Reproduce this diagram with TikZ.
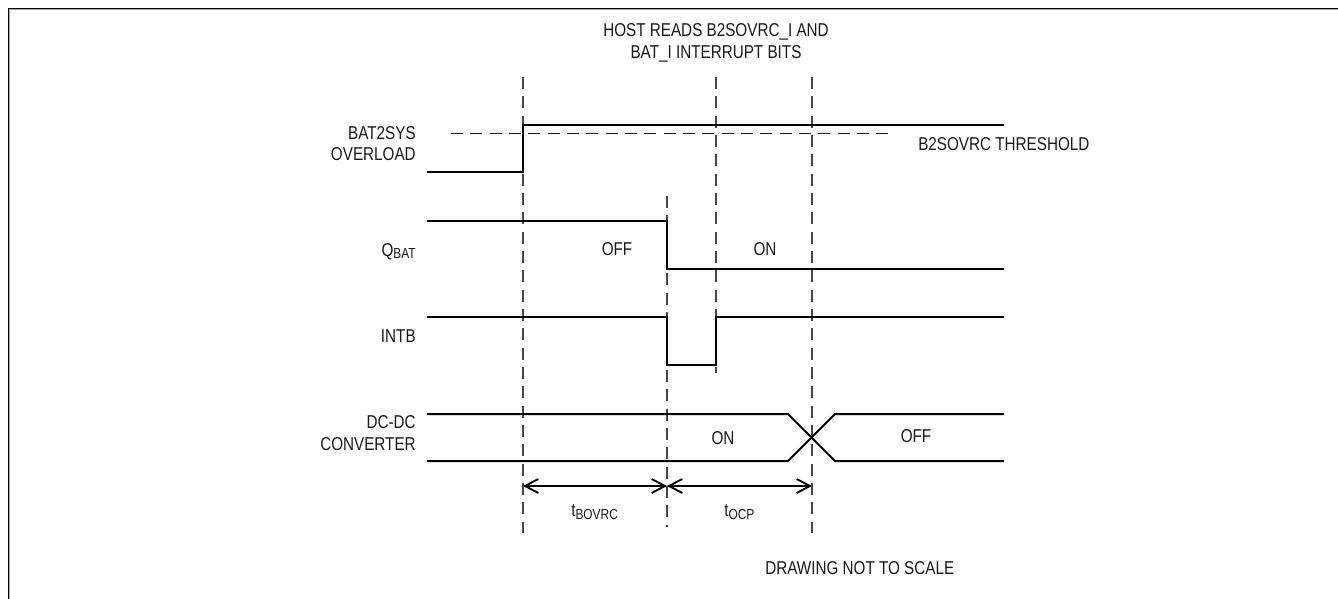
\documentclass[tikz,border=0pt]{standalone}
\usepackage{fontspec}
\setmainfont{Liberation Sans}[FakeStretch=0.82]
\usetikzlibrary{arrows.meta}
\newcommand{\mysub}[1]{\raisebox{-1.9pt}{\fontsize{10.9pt}{12pt}\selectfont #1}}
\begin{document}
\begin{tikzpicture}[x=0.75pt,y=-0.75pt,
  sig/.style={line width=1.5pt, line join=miter},
  vdash/.style={draw=black!72, line width=1.4pt, dash pattern=on 9pt off 5.5pt},
  thr/.style={draw=black!90, line width=1.1pt, dash pattern=on 9pt off 5.5pt},
  lbl/.style={inner sep=0pt, font=\fontsize{13.95pt}{16.4pt}\selectfont, text=black!90},
  dim/.style={line width=1.4pt, {Straight Barb[length=10pt,width=10.5pt]}-{Straight Barb[length=10pt,width=10.5pt]}}
]
\useasboundingbox (0,0) rectangle (1338,599);
% frame (top and left edges only)
\draw[gray!70, line width=0.75pt] (9.8,599) -- (9.8,9.8) -- (1338,9.8);
\draw[black, line width=0.8pt] (8.6,599) -- (8.6,8.6) -- (1338,8.6);

% vertical dashed time markers
\coordinate (v1t) at (523,77);   \coordinate (v1b) at (523,533);
\coordinate (v2t) at (667,196);  \coordinate (v2b) at (667,527);
\coordinate (v3t) at (716,77);   \coordinate (v3b) at (716,373);
\coordinate (v4t) at (812,77);   \coordinate (v4b) at (812,533);
\draw[vdash] (v1t) -- (v1b);
\draw[vdash] (v2t) -- (v2b);
\draw[vdash] (v3t) -- (v3b);
\draw[vdash] (v4t) -- (v4b);

% threshold
\coordinate (th1) at (451,133.5); \coordinate (th2) at (892,133.5);
\draw[thr] (th1) -- (th2);

% BAT2SYS OVERLOAD
\draw[sig] (427,172) -- (523,172) -- (523,125) -- (1004,125);
% QBAT
\draw[sig] (427,221) -- (667,221) -- (667,269) -- (1004,269);
% INTB
\draw[sig] (427,317) -- (667,317) -- (667,365) -- (716,365) -- (716,317) -- (1004,317);
% DC-DC converter
\draw[sig] (427,414) -- (788,414) -- (835,461) -- (1004,461);
\draw[sig] (427,461) -- (788,461) -- (835,414) -- (1004,414);

% timing dimensions
\coordinate (a1) at (523,486); \coordinate (a2) at (667,486); \coordinate (a3) at (812,486);
\draw[dim] (a1) -- (a2);
\draw[dim] (a2) -- (a3);

% labels (base anchor of a multi-line node = baseline of its last line)
\node[lbl, anchor=base, align=center] (host) at (716,58.3) {HOST READS B2SOVRC\_I AND\\BAT\_I INTERRUPT BITS};
\node[lbl, anchor=base east, align=right] (lbat) at (416,161) {BAT2SYS\\OVERLOAD};
\node[lbl, anchor=base east] (lq) at (416,256) {Q\mysub{BAT}};
\node[lbl, anchor=base east] (lint) at (416,342.3) {INTB};
\node[lbl, anchor=base east, align=right] (ldc) at (416,450) {DC-DC\\CONVERTER};
\node[lbl, anchor=base west] (thrl) at (918,150.7) {B2SOVRC THRESHOLD};
\node[lbl, anchor=base] (qoff) at (617,255.7) {OFF};
\node[lbl, anchor=base] (qon) at (765,255.7) {ON};
\node[lbl, anchor=base] (dcon) at (723,444.3) {ON};
\node[lbl, anchor=base] (dcoff) at (916,442.3) {OFF};
\node[lbl, anchor=base west] (tb) at (571,516.7) {t\mysub{BOVRC}};
\node[lbl, anchor=base west] (to) at (724,516.7) {t\mysub{OCP}};
\node[lbl, anchor=base west] (note) at (765,574.3) {DRAWING NOT TO SCALE};
\end{tikzpicture}
\end{document}
